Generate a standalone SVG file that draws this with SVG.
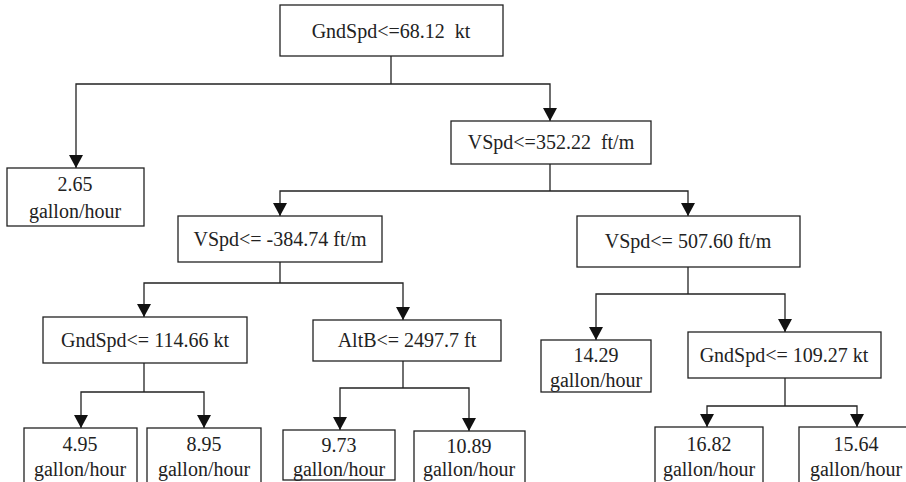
<svg xmlns="http://www.w3.org/2000/svg" width="906" height="482" viewBox="0 0 906 482">
<style>
.box{fill:#fff;stroke:#222;stroke-width:1.3}
.ln{fill:none;stroke:#222;stroke-width:1.3}
text{font-family:Liberation Serif,DejaVu Serif,Times New Roman,serif;font-size:20px;fill:#222;text-anchor:middle}
</style>
<defs>
<marker id="ah" markerUnits="userSpaceOnUse" markerWidth="16" markerHeight="14" refX="7" refY="13" orient="0" viewBox="0 0 14 14">
<polygon points="0,0 14,0 7,13" fill="#111"/>
</marker>
</defs>
<g id="connectors">
<path class="ln" d="M391,56 V84"/>
<path class="ln" d="M391,84 H76 V168" marker-end="url(#ah)"/>
<path class="ln" d="M391,84 H550 V121" marker-end="url(#ah)"/>
<path class="ln" d="M550,164 V191"/>
<path class="ln" d="M550,191 H280 V216" marker-end="url(#ah)"/>
<path class="ln" d="M550,191 H688 V216" marker-end="url(#ah)"/>
<path class="ln" d="M280,262 V283"/>
<path class="ln" d="M280,283 H144 V317" marker-end="url(#ah)"/>
<path class="ln" d="M280,283 H403 V320" marker-end="url(#ah)"/>
<path class="ln" d="M688,267 V294"/>
<path class="ln" d="M688,294 H596 V340" marker-end="url(#ah)"/>
<path class="ln" d="M688,294 H785 V332" marker-end="url(#ah)"/>
<path class="ln" d="M144,363 V392"/>
<path class="ln" d="M144,392 H81 V428" marker-end="url(#ah)"/>
<path class="ln" d="M144,392 H204 V428" marker-end="url(#ah)"/>
<path class="ln" d="M403,361 V388"/>
<path class="ln" d="M403,388 H340 V430" marker-end="url(#ah)"/>
<path class="ln" d="M403,388 H469 V431" marker-end="url(#ah)"/>
<path class="ln" d="M785,378 V406"/>
<path class="ln" d="M785,406 H707 V427" marker-end="url(#ah)"/>
<path class="ln" d="M785,406 H857 V427" marker-end="url(#ah)"/>
</g>
<g id="n_root"><rect class="box" x="280" y="5" width="223" height="51"/><text x="391" y="38">GndSpd&lt;=68.12&#160; kt</text></g>
<g id="n_265"><rect class="box" x="7" y="168" width="137" height="58"/><text x="75" y="191">2.65</text><text x="75" y="218">gallon/hour</text></g>
<g id="n_vspd352"><rect class="box" x="451" y="121" width="200" height="43"/><text x="551" y="149">VSpd&lt;=352.22&#160; ft/m</text></g>
<g id="n_vspd384"><rect class="box" x="178" y="216" width="204" height="46"/><text x="280" y="246">VSpd&lt;= -384.74 ft/m</text></g>
<g id="n_vspd507"><rect class="box" x="577" y="216" width="223" height="51"/><text x="688" y="248">VSpd&lt;= 507.60 ft/m</text></g>
<g id="n_gnd114"><rect class="box" x="43" y="317" width="204" height="46"/><text x="145" y="347">GndSpd&lt;= 114.66 kt</text></g>
<g id="n_altb"><rect class="box" x="313" y="320" width="188" height="41"/><text x="407" y="347">AltB&lt;= 2497.7 ft</text></g>
<g id="n_1429"><rect class="box" x="541" y="340" width="110" height="52"/><text x="596" y="362">14.29</text><text x="596" y="387">gallon/hour</text></g>
<g id="n_gnd109"><rect class="box" x="688" y="332" width="193" height="46"/><text x="784" y="362">GndSpd&lt;= 109.27 kt</text></g>
<g id="n_495"><rect class="box" x="24" y="428" width="113" height="56"/><text x="80" y="451">4.95</text><text x="80" y="476">gallon/hour</text></g>
<g id="n_895"><rect class="box" x="147" y="428" width="114" height="56"/><text x="204" y="451">8.95</text><text x="204" y="476">gallon/hour</text></g>
<g id="n_973"><rect class="box" x="283" y="430" width="112" height="50"/><text x="339" y="452">9.73</text><text x="339" y="476">gallon/hour</text></g>
<g id="n_1089"><rect class="box" x="414" y="431" width="111" height="53"/><text x="469" y="453">10.89</text><text x="469" y="476">gallon/hour</text></g>
<g id="n_1682"><rect class="box" x="655" y="427" width="108" height="57"/><text x="709" y="451">16.82</text><text x="709" y="476">gallon/hour</text></g>
<g id="n_1564"><rect class="box" x="799" y="427" width="110" height="57"/><text x="856" y="451">15.64</text><text x="856" y="476">gallon/hour</text></g>
</svg>
